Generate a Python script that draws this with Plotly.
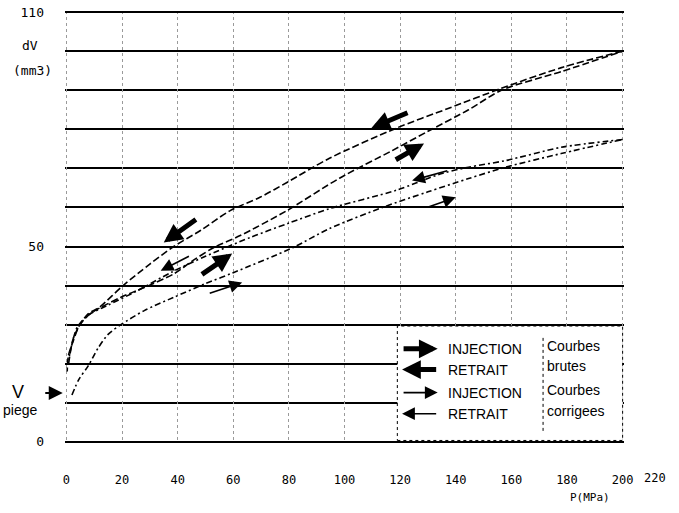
import plotly.graph_objects as go

# ---------------- data ----------------
# P in MPa, dV in mm3
p_inj_brute = [0.8, 2.5, 5.4, 9, 19.6, 28, 38.6, 45.7, 52.9, 62.5, 79.3, 98.2, 117, 130, 144.6, 156.4, 178, 200]
v_inj_brute = [20, 26.5, 30.5, 33, 37, 39.5, 43, 46.5, 49.7, 52.8, 59.2, 67.5, 74.5, 79.5, 85, 90, 94.8, 100]

p_ret_brute = [200, 178, 156.4, 137.5, 118.6, 94.6, 79.3, 69.6, 58.9, 48.2, 38.6, 30, 20.4, 11.8, 7.9, 4.6, 2.5, 0.7, 0.3]
v_ret_brute = [100, 95.8, 90.5, 85.4, 80.3, 72.6, 66.4, 62.6, 59.2, 54.1, 50, 45.5, 40, 34.4, 32.8, 29.7, 25.9, 22, 18]

p_inj_corr = [2, 4.5, 7.9, 11.4, 15, 19.6, 28, 38.6, 50, 60, 81.4, 94.6, 113.6, 130, 144.6, 157.9, 177.9, 200]
v_inj_corr = [12, 16, 19.5, 24, 27.5, 30, 33.6, 37, 40.5, 43.3, 49.7, 54.6, 60, 64, 67.4, 70.3, 73.8, 77.4]

p_ret_corr = [200, 177.9, 157.9, 144.6, 135, 118.6, 94.6, 80, 66, 50, 38, 25, 15, 8, 4, 2, 0.8]
v_ret_corr = [77.4, 75.4, 72, 70.3, 68.7, 64.4, 59.7, 56, 52.3, 47.5, 43.5, 38.5, 35, 32.5, 29.5, 25, 21]

x_ticks = [0, 20, 40, 60, 80, 100, 120, 140, 160, 180, 200]
y_ticks = [0, 50, 110]

# ---------------- figure ----------------
fig = go.Figure()

curves = [
    (p_inj_brute, v_inj_brute, "7px,3px"),
    (p_ret_brute, v_ret_brute, "7px,3px"),
    (p_inj_corr, v_inj_corr, "6px,3px,2px,3px"),
    (p_ret_corr, v_ret_corr, "6px,3px,2px,3px"),
]
for px_, vy_, dash in curves:
    fig.add_trace(go.Scatter(
        x=px_, y=vy_, mode="lines",
        line=dict(color="black", width=1.6, dash=dash, shape="spline", smoothing=0.8),
        hoverinfo="skip", showlegend=False))

annotations = []

def arrow(tail, head, thick):
    annotations.append(dict(
        x=head[0], y=head[1], ax=tail[0], ay=tail[1],
        xref="x", yref="y", axref="x", ayref="y",
        text="", showarrow=True, arrowhead=2,
        arrowwidth=5 if thick else 1.6,
        arrowsize=0.75 if thick else 1.6,
        arrowcolor="black"))

# direction arrows on the chart
arrow((123.2, 84.4), (109.6, 80.3), True)   # retrait brute
arrow((117.9, 72.0), (128.6, 76.4), True)   # injection brute
arrow((47.1, 57.2), (35.0, 51.0), True)     # retrait brute
arrow((48.2, 42.6), (59.6, 48.2), True)     # injection brute
arrow((137.5, 69.5), (124.3, 66.9), False)  # retrait corrigee
arrow((129.6, 60.0), (140.0, 62.6), False)  # injection corrigee
arrow((44.6, 47.7), (33.9, 43.8), False)    # retrait corrigee
arrow((51.0, 37.9), (63.2, 40.8), False)    # injection corrigee

# legend arrows
arrow((120.7, 23.8), (133.5, 23.8), True)
arrow((133.5, 18.5), (120.7, 18.5), True)
arrow((120.7, 12.6), (133.5, 12.6), False)
arrow((133.5, 7.2), (120.7, 7.2), False)

legfont = dict(family="Liberation Sans, Arial, sans-serif", size=14, color="black")
for txt, y in [("INJECTION", 23.8), ("RETRAIT", 18.5), ("INJECTION", 12.6), ("RETRAIT", 7.2)]:
    annotations.append(dict(x=136.5, y=y, xref="x", yref="y", text=txt, showarrow=False,
                            xanchor="left", yanchor="middle", font=legfont))
for txt, y in [("Courbes", 24.6), ("brutes", 19.4), ("Courbes", 13.3), ("corrigees", 7.9)]:
    annotations.append(dict(x=172.0, y=y, xref="x", yref="y", text=txt, showarrow=False,
                            xanchor="left", yanchor="middle", font=legfont))

monofont = dict(family="DejaVu Sans Mono, monospace", size=13, color="black")
sans = "Liberation Sans, Arial, sans-serif"
annotations += [
    dict(x=-0.0626, y=0.921, xref="paper", yref="paper", text="dV", showarrow=False,
         xanchor="center", yanchor="middle", font=monofont),
    dict(x=-0.059, y=0.863, xref="paper", yref="paper", text="(mm3)", showarrow=False,
         xanchor="center", yanchor="middle", font=monofont),
    dict(x=-0.084, y=0.118, xref="paper", yref="paper", text="V", showarrow=False,
         xanchor="center", yanchor="middle", font=dict(family=sans, size=18, color="black")),
    dict(x=-0.0805, y=0.0764, xref="paper", yref="paper", text="piege", showarrow=False,
         xanchor="center", yanchor="middle", font=dict(family=sans, size=14, color="black")),
    dict(x=-0.004, y=0.1157, xref="paper", yref="paper", ax=-19, ay=0,
         text="", showarrow=True, arrowhead=2, arrowwidth=2, arrowsize=1.4, arrowcolor="black"),
    dict(x=1.0555, y=-0.081, xref="paper", yref="paper", text="220", showarrow=False,
         xanchor="center", yanchor="middle",
         font=dict(family="DejaVu Sans Mono, monospace", size=12, color="black")),
    dict(x=0.939, y=-0.125, xref="paper", yref="paper", text="P(MPa)", showarrow=False,
         xanchor="center", yanchor="middle",
         font=dict(family="DejaVu Sans Mono, monospace", size=11, color="black")),
]

shapes = [
    # legend box
    dict(type="rect", xref="x", yref="y", x0=119, x1=200, y0=0.35, y1=29.65,
         fillcolor="white", line=dict(color="black", width=1, dash="dot"), layer="above"),
    dict(type="line", xref="x", yref="y", x0=171.4, x1=171.4, y0=2.8, y1=27.2,
         line=dict(color="black", width=1, dash="dot"), layer="above"),
]

fig.update_layout(
    width=679, height=513,
    margin=dict(l=65, r=55, t=11, b=70, autoexpand=False),
    paper_bgcolor="white", plot_bgcolor="white",
    showlegend=False,
    annotations=annotations,
    shapes=shapes,
    xaxis=dict(
        range=[-0.5, 200.5], tickvals=x_ticks, ticktext=[str(v) for v in x_ticks],
        showgrid=True, gridcolor="#9a9a9a", gridwidth=1, griddash="dot",
        zeroline=False, showline=False, ticks="", ticklabelstandoff=28, automargin=False,
        tickfont=dict(family="DejaVu Sans Mono, monospace", size=12, color="black"),
    ),
    yaxis=dict(
        range=[-0.3, 110.3], tickvals=y_ticks, ticktext=[str(v) for v in y_ticks],
        showgrid=True, gridcolor="black", gridwidth=1.6,
        minor=dict(dtick=10, tick0=0, showgrid=True, gridcolor="black", gridwidth=1.6),
        zeroline=False, showline=False, ticks="", ticklabelstandoff=20, automargin=False,
        tickfont=dict(family="DejaVu Sans Mono, monospace", size=13, color="black"),
    ),
)

fig.write_html("out.html", config={"displayModeBar": False},
               post_script="document.body.style.margin='0';")
